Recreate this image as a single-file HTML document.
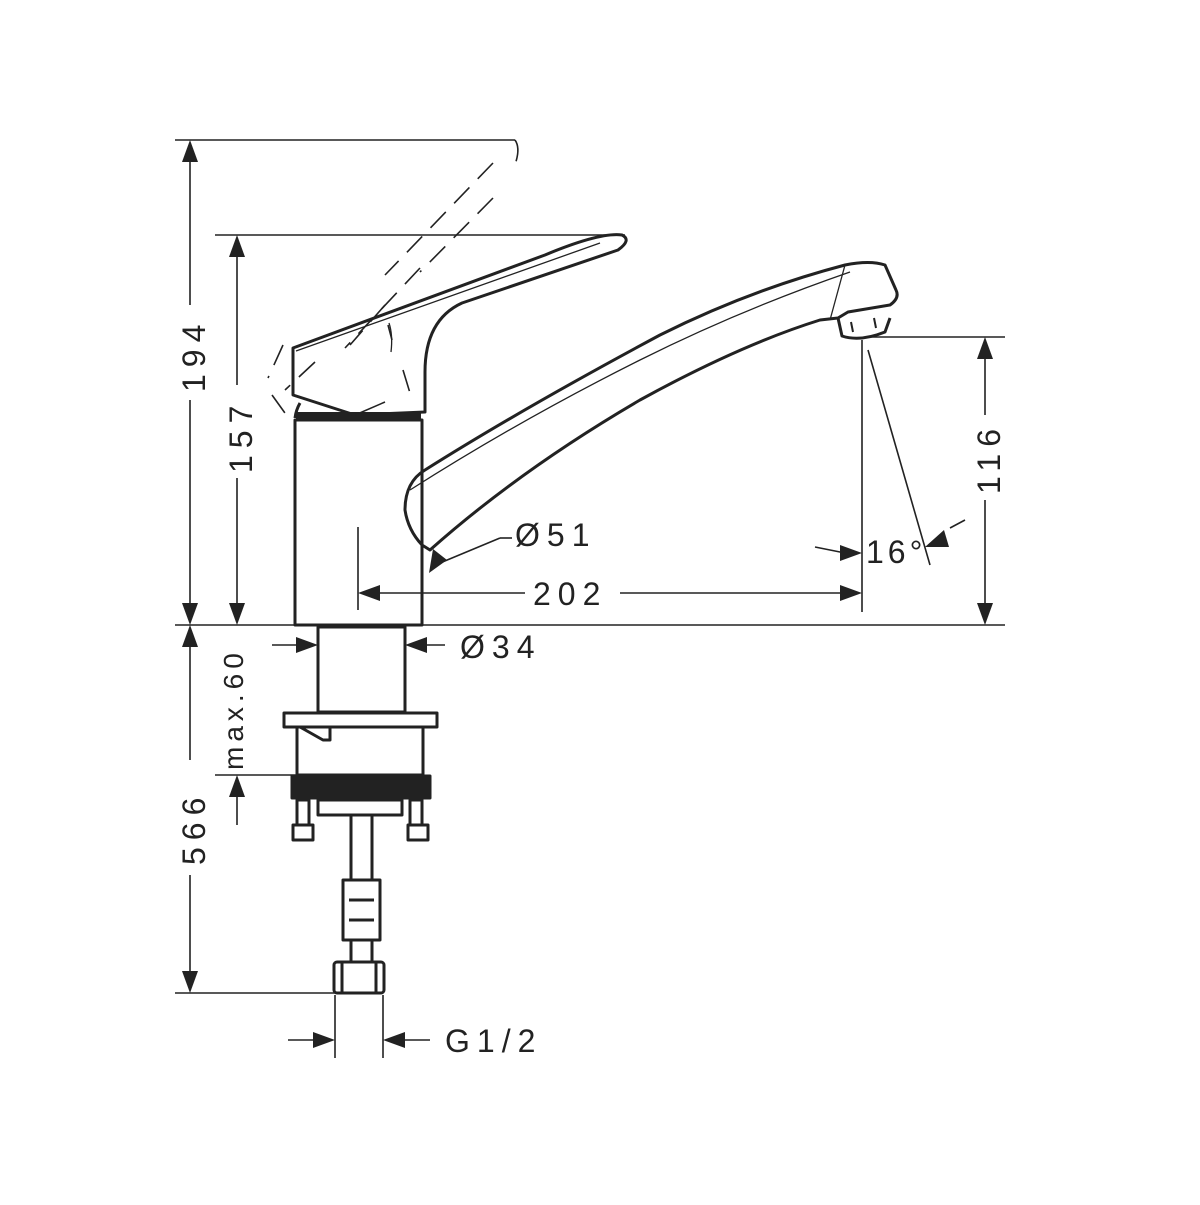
<!DOCTYPE html>
<html><head><style>html,body{margin:0;padding:0;background:#fff}</style></head>
<body>
<svg width="1200" height="1200" viewBox="0 0 1200 1200" xmlns="http://www.w3.org/2000/svg" font-family="Liberation Sans, sans-serif">
<g fill="none" stroke="#222" stroke-width="1.6">
<line x1="175" y1="140" x2="515" y2="140"/>
<line x1="215" y1="235" x2="625" y2="235"/>
<line x1="175" y1="625" x2="1005" y2="625"/>
<line x1="865" y1="337" x2="1005" y2="337"/>
<line x1="175" y1="993" x2="340" y2="993"/>
<line x1="215" y1="775" x2="300" y2="775"/>
<line x1="190" y1="160" x2="190" y2="305"/>
<line x1="190" y1="400" x2="190" y2="605"/>
<line x1="237" y1="255" x2="237" y2="385"/>
<line x1="237" y1="478" x2="237" y2="605"/>
<line x1="190" y1="645" x2="190" y2="760"/>
<line x1="190" y1="875" x2="190" y2="975"/>
<line x1="237" y1="795" x2="237" y2="825"/>
<line x1="985" y1="357" x2="985" y2="415"/>
<line x1="985" y1="500" x2="985" y2="605"/>
<line x1="358" y1="527" x2="358" y2="610"/>
<line x1="862" y1="340" x2="862" y2="612"/>
<line x1="378" y1="593" x2="525" y2="593"/>
<line x1="620" y1="593" x2="842" y2="593"/>
<line x1="868" y1="350" x2="930" y2="565"/>
<line x1="815" y1="547" x2="845" y2="553"/>
<line x1="950" y1="528" x2="965" y2="520"/>
<line x1="500" y1="538" x2="440" y2="563"/>
<line x1="500" y1="538" x2="512" y2="538"/>
<line x1="272" y1="645" x2="298" y2="645"/>
<line x1="425" y1="645" x2="445" y2="645"/>
<line x1="335" y1="995" x2="335" y2="1058"/>
<line x1="383" y1="995" x2="383" y2="1058"/>
<line x1="288" y1="1040" x2="318" y2="1040"/>
<line x1="400" y1="1040" x2="430" y2="1040"/>
</g>
<g fill="#222">
<polygon points="190,140 182,162 198,162"/>
<polygon points="190,625 182,603 198,603"/>
<polygon points="237,235 229,257 245,257"/>
<polygon points="237,625 229,603 245,603"/>
<polygon points="190,625 182,647 198,647"/>
<polygon points="190,993 182,971 198,971"/>
<polygon points="237,775 229,797 245,797"/>
<polygon points="985,337 977,359 993,359"/>
<polygon points="985,625 977,603 993,603"/>
<polygon points="358,593 380,585 380,601"/>
<polygon points="862,593 840,585 840,601"/>
<polygon points="862,553 840,545 840,561"/>
<polygon points="925,547 944,530 949,547"/>
<polygon points="429,573 433,549 447,560"/>
<polygon points="318,645 296,637 296,653"/>
<polygon points="405,645 427,637 427,653"/>
<polygon points="335,1040 313,1032 313,1048"/>
<polygon points="383,1040 405,1032 405,1048"/>
</g>
<g fill="none" stroke="#222" stroke-width="1.6" stroke-dasharray="22,12">
<path d="M515,140 Q522,150 512,172"/>
<path d="M493,163 L385,275"/>
<path d="M493,198 L420,272"/>
<path d="M420,268 L345,348"/>
<path d="M385,305 L350,345"/>
<path d="M315,362 L285,390"/>
<path d="M283,345 L268,378"/>
<path d="M272,395 L290,420"/>
<path d="M388,325 L392,340 M403,370 L410,393"/>
</g>
<g fill="none" stroke="#222" stroke-width="3" stroke-linejoin="round">
<rect x="295" y="420" width="127" height="205"/>
<line x1="296" y1="416" x2="421" y2="416" stroke-width="8"/>
<path d="M300,403 Q296,410 295,418"/>
<path d="M293,348 L293,395 L355,415 L425,412 L425,372 Q425,320 462,303 L618,250 Q632,240 622,235 Q600,232 545,255 Z"/>
<path d="M296,351 L600,243" stroke-width="1.3"/>
<path d="M389,323 Q393,335 391,352" stroke-width="1.3"/>
<path d="M355,415 L385,402" stroke-width="1.5"/>
<path d="M422,545 L430,550 Q520,470 640,400 Q740,345 820,320 L838,318 L848,312 L890,305 Q900,298 896,290 L885,265 Q870,260 845,265 Q750,290 660,335 Q520,410 425,470 Q405,482 405,510 Q408,530 422,545 Z"/>
<path d="M410,490 Q520,420 640,360 Q740,310 850,272" stroke-width="1.3"/>
<path d="M845,265 L830,320" stroke-width="1.3"/>
<path d="M838,318 L842,336 Q860,342 885,332 L890,318"/>
<line x1="851" y1="322" x2="853" y2="332" stroke-width="2"/>
<line x1="874" y1="318" x2="876" y2="328" stroke-width="2"/>
<rect x="318" y="627" width="87" height="85"/>
<rect x="284" y="713" width="153" height="14"/>
<rect x="297" y="727" width="126" height="48"/>
<path d="M300,727 L323,740 L330,740 L330,727"/>
<rect x="292" y="776" width="138" height="22" fill="#222"/>
<rect x="297" y="800" width="12" height="25"/>
<rect x="410" y="800" width="12" height="25"/>
<path d="M293,825 L313,825 L313,840 L293,840 Z M408,825 L428,825 L428,840 L408,840 Z"/>
<rect x="318" y="800" width="84" height="15"/>
<rect x="351" y="815" width="21" height="65"/>
<rect x="343" y="880" width="37" height="60"/>
<line x1="349" y1="900" x2="374" y2="900"/>
<line x1="349" y1="920" x2="374" y2="920"/>
<rect x="351" y="940" width="21" height="22"/>
<rect x="334" y="962" width="50" height="31" rx="3"/>
<line x1="342" y1="962" x2="342" y2="993"/>
<line x1="376" y1="962" x2="376" y2="993"/>
</g>
<g fill="#222" font-size="32" letter-spacing="7">
<text transform="translate(205,392) rotate(-90)">194</text>
<text transform="translate(252,473) rotate(-90)">157</text>
<text transform="translate(1000,494) rotate(-90)">116</text>
<text transform="translate(205,865) rotate(-90)">566</text>
<text transform="translate(243,770) rotate(-90)" font-size="28" letter-spacing="5">max.60</text>
<text x="533" y="605">202</text>
<text x="515" y="546">Ø51</text>
<text x="460" y="658">Ø34</text>
<text x="866" y="563" letter-spacing="4">16°</text>
<text x="445" y="1052">G1/2</text>
</g>
</svg>
</body></html>
